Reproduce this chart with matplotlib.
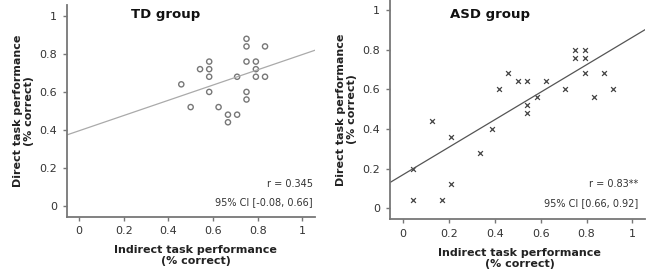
import matplotlib.pyplot as plt
import numpy as np

# TD group (indirect, direct)
td_x = [0.458, 0.500, 0.542, 0.583, 0.583, 0.583, 0.583, 0.625, 0.667, 0.667, 0.708,
        0.708, 0.750, 0.750, 0.750, 0.750, 0.750, 0.792, 0.792, 0.792, 0.833, 0.833]
td_y = [0.64, 0.52, 0.72, 0.76, 0.72, 0.68, 0.60, 0.52, 0.48, 0.44, 0.68,
        0.48, 0.88, 0.84, 0.76, 0.60, 0.56, 0.76, 0.72, 0.68, 0.84, 0.68]
td_fit = (0.402, 0.395)  # slope, intercept
td_stats = ["r = 0.345", "95% CI [-0.08, 0.66]"]

# ASD group
asd_x = [0.042, 0.042, 0.125, 0.167, 0.208, 0.208, 0.333, 0.389, 0.417, 0.458, 0.500,
         0.542, 0.542, 0.542, 0.583, 0.625, 0.708, 0.750, 0.750, 0.792, 0.792, 0.792,
         0.833, 0.875, 0.917]
asd_y = [0.20, 0.04, 0.44, 0.04, 0.36, 0.12, 0.28, 0.40, 0.60, 0.68, 0.64,
         0.64, 0.52, 0.48, 0.56, 0.64, 0.60, 0.80, 0.76, 0.80, 0.76, 0.68,
         0.56, 0.68, 0.60]
asd_fit = (0.692, 0.17)
asd_stats = ["r = 0.83**", "95% CI [0.66, 0.92]"]

ticks = [0, 0.2, 0.4, 0.6, 0.8, 1]
tick_labels = ["0", "0.2", "0.4", "0.6", "0.8", "1"]

fig = plt.figure(figsize=(6.58, 2.77), dpi=100)
ax1 = fig.add_axes([0.1014, 0.2177, 0.3774, 0.764])
ax2 = fig.add_axes([0.5923, 0.2094, 0.3875, 0.7906])


def style(ax, xlim, ylim, title, stats, title_pos, stats_pos):
    ax.set_xlim(*xlim)
    ax.set_ylim(*ylim)
    for s in ["top", "right"]:
        ax.spines[s].set_visible(False)
    for s in ["left", "bottom"]:
        ax.spines[s].set_color("#777777")
        ax.spines[s].set_linewidth(1.3)
    ax.set_xticks(ticks)
    ax.set_xticklabels(tick_labels)
    ax.set_yticks(ticks)
    ax.set_yticklabels(tick_labels)
    ax.tick_params(length=3, width=1, color="#777777", labelsize=8, labelcolor="#333333", pad=4)
    ax.text(title_pos[0], title_pos[1], title, transform=ax.transAxes, fontsize=9.5,
            fontweight="bold", ha="left", va="center", color="#111111")
    ax.text(stats_pos[0], stats_pos[1], stats[0], transform=ax.transAxes, fontsize=7,
            ha="right", va="center", color="#333333")
    ax.text(stats_pos[0], stats_pos[2], stats[1], transform=ax.transAxes, fontsize=7,
            ha="right", va="center", color="#333333")
    ax.set_xlabel("Indirect task performance\n(% correct)", fontsize=8, fontweight="bold",
                  color="#222222", linespacing=1.15)
    ax.set_ylabel("Direct task performance\n(% correct)", fontsize=8, fontweight="bold",
                  color="#222222", linespacing=1.15)


# TD panel
ax1.scatter(td_x, td_y, s=14, facecolors="none", edgecolors="#777777", linewidths=1)
xl1 = (-0.055, 1.057)
xx = np.array(xl1)
ax1.plot(xx, td_fit[0] * xx + td_fit[1], color="#aaaaaa", lw=0.9)
style(ax1, xl1, (-0.058, 1.058), "TD group", td_stats, (0.26, 0.955), (0.992, 0.155, 0.069))
ax1.xaxis.set_label_coords(0.52, -0.134)
ax1.yaxis.set_label_coords(-0.13, 0.5)

# ASD panel
ax2.scatter(asd_x, asd_y, s=12, marker="x", color="#444444", linewidths=0.9)
xl2 = (-0.059, 1.054)
xx = np.array(xl2)
ax2.plot(xx, asd_fit[0] * xx + asd_fit[1], color="#555555", lw=0.9)
style(ax2, xl2, (-0.054, 1.05), "ASD group", asd_stats, (0.236, 0.932), (0.974, 0.16, 0.073))
ax2.xaxis.set_label_coords(0.51, -0.132)
ax2.yaxis.set_label_coords(-0.128, 0.5)

fig.savefig("out.png", dpi=100)
